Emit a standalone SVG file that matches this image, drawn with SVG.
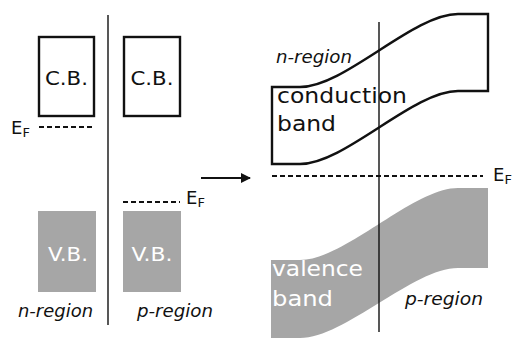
<svg xmlns="http://www.w3.org/2000/svg" width="512" height="338" viewBox="0 0 512 338">
<defs>
<style>
.t{font-family:"DejaVu Sans","Liberation Sans",sans-serif;fill:#111}
.it{font-style:italic;font-size:17px}
.w{fill:#fff}
.box{fill:none;stroke:#111;stroke-width:2.4}
.gray{fill:#a6a6a6;stroke:none}
.dash{fill:none;stroke:#111;stroke-width:1.8;stroke-dasharray:5 3}
.div{stroke:#111;stroke-width:1.4;fill:none}
.lbl{font-size:19px}
</style>
<marker id="ah" markerWidth="10" markerHeight="10" refX="9" refY="5" orient="auto" markerUnits="userSpaceOnUse" viewBox="0 0 10 10">
<path d="M0,0 L10,5 L0,10 Z" fill="#111"/>
</marker>
</defs>
<rect width="512" height="338" fill="#fff"/>

<g id="connectors">
<line class="div" x1="108" y1="15" x2="108" y2="325"/>
<line x1="201" y1="178" x2="250" y2="178" stroke="#111" stroke-width="2" marker-end="url(#ah)"/>
</g>

<g id="left-n-cb">
<rect class="box" x="39" y="37" width="55" height="79"/>
<text class="t lbl" x="66.5" y="85" text-anchor="middle" textLength="43" lengthAdjust="spacingAndGlyphs">C.B.</text>
</g>
<g id="left-p-cb">
<rect class="box" x="124" y="37" width="56" height="79"/>
<text class="t lbl" x="152" y="85" text-anchor="middle" textLength="43" lengthAdjust="spacingAndGlyphs">C.B.</text>
</g>
<g id="left-n-ef">
<line class="dash" x1="39" y1="127" x2="95" y2="127"/>
<text class="t" x="11" y="134" font-size="18">E<tspan font-size="13" dy="3">F</tspan></text>
</g>
<g id="left-p-ef">
<line class="dash" x1="123" y1="202" x2="180" y2="202"/>
<text class="t" x="186" y="204" font-size="18">E<tspan font-size="13" dy="3">F</tspan></text>
</g>
<g id="left-n-vb">
<rect class="gray" x="38" y="211" width="58" height="81"/>
<text class="t lbl w" x="68" y="261" text-anchor="middle" textLength="40" lengthAdjust="spacingAndGlyphs">V.B.</text>
</g>
<g id="left-p-vb">
<rect class="gray" x="123" y="211" width="58" height="81"/>
<text class="t lbl w" x="152" y="261" text-anchor="middle" textLength="41" lengthAdjust="spacingAndGlyphs">V.B.</text>
</g>
<g id="left-labels">
<text class="t it" x="18" y="317" textLength="75" lengthAdjust="spacingAndGlyphs">n-region</text>
<text class="t it" x="137" y="317" textLength="76" lengthAdjust="spacingAndGlyphs">p-region</text>
</g>

<g id="right-vb">
<path class="gray" d="M271,260 L300,260 C345,260 413,188 458,188 L488,188 L488,268 L458,268 C413,268 345,338 300,338 L271,338 Z"/>
<text class="t w" font-size="22" x="272" y="276" textLength="91" lengthAdjust="spacingAndGlyphs">valence</text>
<text class="t w" font-size="22" x="272" y="306" textLength="61" lengthAdjust="spacingAndGlyphs">band</text>
</g>
<g id="right-cb">
<path class="box" d="M272,87 L300,87 C345,87 413,14 458,14 L488,14 L488,91 L458,91 C413,91 345,164 300,164 L272,164 Z"/>
<text class="t" font-size="22" x="277" y="103" textLength="130" lengthAdjust="spacingAndGlyphs">conduction</text>
<text class="t" font-size="22" x="277" y="131" textLength="59" lengthAdjust="spacingAndGlyphs">band</text>
</g>
<g id="right-ef">
<line class="dash" x1="272" y1="176" x2="483" y2="176"/>
<text class="t" x="493" y="181" font-size="18">E<tspan font-size="13" dy="3">F</tspan></text>
</g>
<g id="right-divider">
<line class="div" x1="379" y1="22" x2="379" y2="332"/>
</g>
<g id="right-labels">
<text class="t it" x="276" y="63" textLength="76" lengthAdjust="spacingAndGlyphs">n-region</text>
<text class="t it" x="405" y="305" textLength="78" lengthAdjust="spacingAndGlyphs">p-region</text>
</g>
</svg>
